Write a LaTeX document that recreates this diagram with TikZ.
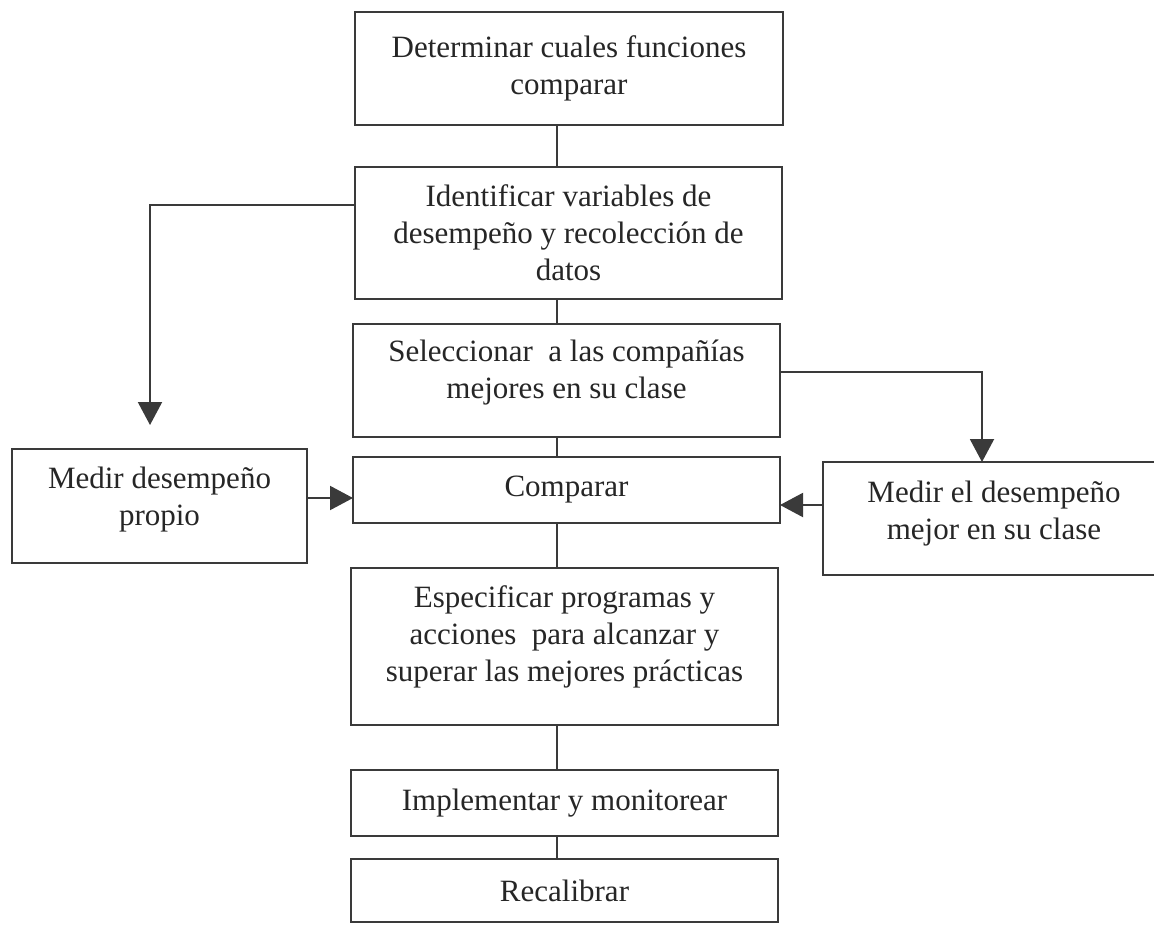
\documentclass[tikz,border=0pt]{standalone}
\usepackage{fontspec}
\setmainfont{Liberation Serif}
\usetikzlibrary{arrows.meta}
\definecolor{ink}{HTML}{3A3A3A}
\begin{document}
\begin{tikzpicture}[x=1pt,y=-1pt,
  box/.style={draw=ink, line width=2pt, rectangle, inner sep=0pt, outer sep=0pt, align=center,
    font=\fontsize{31}{37}\selectfont, text=black!85},
  link/.style={draw=ink, line width=2pt},
  arr/.style={link, -{Triangle[length=23pt,width=24pt]}}]
\useasboundingbox (0,0) rectangle (1154,926);
\fill[white] (0,0) rectangle (1154,926);

\node[box, minimum width=428pt, minimum height=113pt] (b1) at (569,68.5) {Determinar cuales funciones\\comparar};
\node[box, minimum width=427pt, minimum height=132pt] (b2) at (568.5,233) {Identificar variables de\\desempeño y recolección de\\datos};
\node[box, minimum width=427pt, minimum height=113pt] (b3) at (566.5,380.5) {Seleccionar\ \ a las compañías\\mejores en su clase\\[-14pt]\mbox{}};
\node[box, minimum width=427pt, minimum height=66pt] (b4) at (566.5,490) {Comparar};
\node[box, minimum width=295pt, minimum height=114pt] (b5) at (159.5,506) {Medir desempeño\\propio\\[-18pt]\mbox{}};
\node[box, minimum width=342pt, minimum height=113pt] (b6) at (994,518.5) {Medir el desempeño\\mejor en su clase\\[-20pt]\mbox{}};
\node[box, minimum width=427pt, minimum height=157pt] (b7) at (564.5,646.5) {Especificar programas y\\acciones\ \ para alcanzar y\\superar las mejores prácticas\\[-12pt]\mbox{}};
\node[box, minimum width=427pt, minimum height=66pt] (b8) at (564.5,803) {Implementar y monitorear};
\node[box, minimum width=427pt, minimum height=63pt] (b9) at (564.5,890.5) {Recalibrar};

\coordinate (vx) at (557,0);
\draw[link] (b1.south -| vx) -- (b2.north -| vx);
\draw[link] (b2.south -| vx) -- (b3.north -| vx);
\draw[link] (b3.south -| vx) -- (b4.north -| vx);
\draw[link] (b4.south -| vx) -- (b7.north -| vx);
\draw[link] (b7.south -| vx) -- (b8.north -| vx);
\draw[link] (b8.south -| vx) -- (b9.north -| vx);

\coordinate (lc) at (150,205);
\coordinate (ltip) at (150,425);
\draw[arr] (b2.west |- lc) -- (lc) -- (ltip);

\coordinate (rc) at (982,372);
\draw[arr] (b3.east |- rc) -- (rc) -- (b6.north -| rc);

\coordinate (ha) at (0,498);
\draw[arr] (b5.east |- ha) -- (b4.west |- ha);
\coordinate (hb) at (0,505);
\draw[arr] (b6.west |- hb) -- (b4.east |- hb);
\end{tikzpicture}
\end{document}
